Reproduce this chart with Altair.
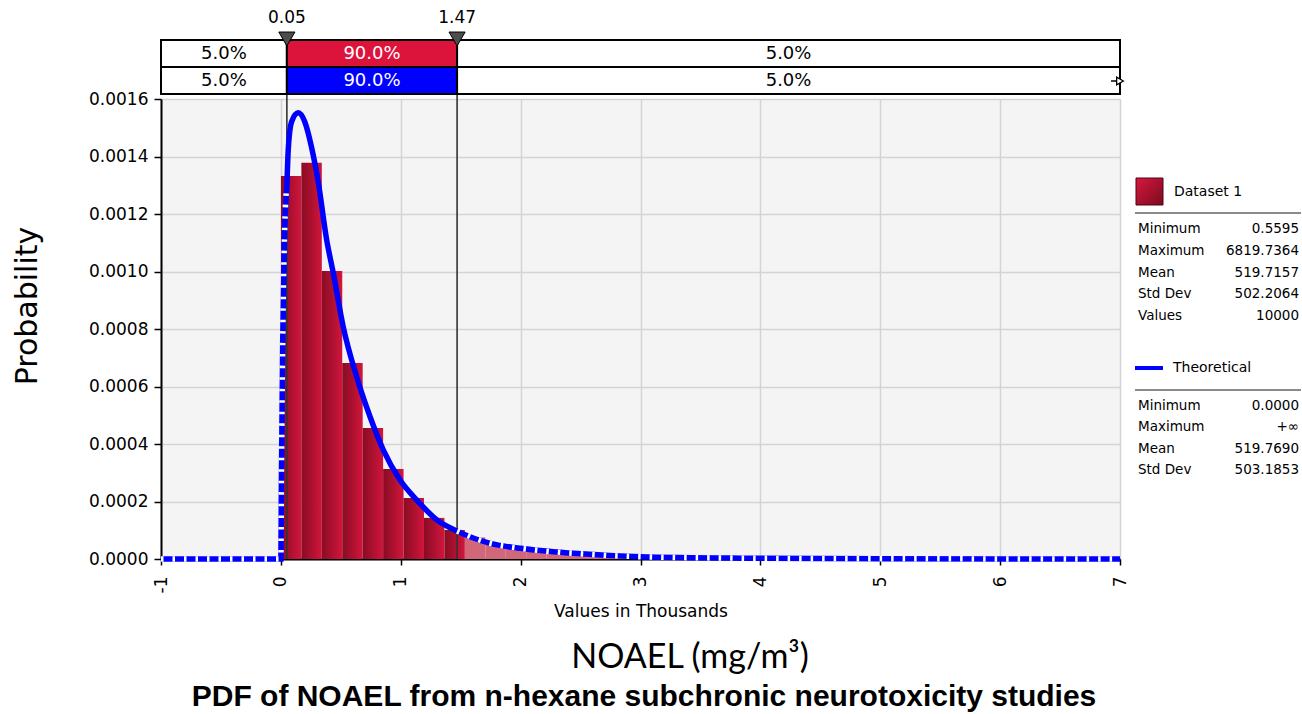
import altair as alt
import pandas as pd

# ---------------- data ----------------
# Histogram of Dataset 1 (x in thousands of mg/m3, y = probability density)
BIN_START = 0.0005595          # thousands
BIN_WIDTH = 0.1704794          # thousands
BAR_DENSITY = [0.001332, 0.001378, 0.001002, 0.000682, 0.000456, 0.000313,
               0.000212, 0.000143, 0.000101, 0.000075, 0.000054, 0.000040,
               0.000030, 0.000023, 0.000017, 0.000013, 0.000010, 0.0000075,
               0.0000055, 0.0000042, 0.0000032, 0.0000024, 0.0000018,
               0.0000014, 0.0000011, 0.0000008, 0.0000006, 0.0000005,
               0.0000004, 0.0000003, 0.0000002, 0.0000002, 0.0000001,
               0.0000001, 0.0000001, 0.0000001, 0.0, 0.0, 0.0, 0.0000006]

# Theoretical curve
CURVE_X = [-1.0, 0.0, 0.004, 0.015, 0.03, 0.05, 0.061, 0.089, 0.145, 0.20,
           0.257, 0.312, 0.382, 0.437, 0.52, 0.632, 0.744, 0.855, 0.994,
           1.134, 1.301, 1.47, 1.746, 1.997, 2.442, 2.999, 3.835, 5.0, 7.0]
CURVE_Y = [0.0, 0.0, 0.00025, 0.00075, 0.00112, 0.00130, 0.00142, 0.00152,
           0.001552, 0.00152, 0.00143, 0.00131, 0.00111, 0.000995, 0.000808,
           0.000634, 0.000495, 0.000379, 0.000275, 0.000205, 0.000136,
           0.000097, 0.0000546, 0.0000372, 0.0000198, 0.000008, 0.000003,
           0.000001, 0.0]

DELIMS = [0.05, 1.47]
DELIM_LABELS = ["0.05", "1.47"]
BAND_EDGES = [-1, 0.05, 1.47, 7]
BAND_PCTS = ["5.0%", "90.0%", "5.0%"]

DS_LABELS = ["Minimum", "Maximum", "Mean", "Std Dev", "Values"]
DS_VALUES = ["0.5595", "6819.7364", "519.7157", "502.2064", "10000"]
TH_LABELS = ["Minimum", "Maximum", "Mean", "Std Dev"]
TH_VALUES = ["0.0000", "+\u221e", "519.7690", "503.1853"]

X_TICKS = [-1, 0, 1, 2, 3, 4, 5, 6, 7]
Y_TICKS = [0.0, 0.0002, 0.0004, 0.0006, 0.0008, 0.0010, 0.0012, 0.0014, 0.0016]

Y_TITLE = "Probability"
X_TITLE = "Values in Thousands"
UNIT_TITLE = "NOAEL (mg/m\u00b3)"
MAIN_TITLE = "PDF of NOAEL from n-hexane subchronic neurotoxicity studies"

# ---------------- layout ----------------
W, H = 959, 460
FONT = "DejaVu Sans"
xs = alt.Scale(domain=[-1, 7], nice=False, zero=False)
ys = alt.Scale(domain=[0, 0.0016], nice=False, zero=False)

bars = pd.DataFrame({"d": BAR_DENSITY})
bars["i"] = range(len(bars))
bars["lo"] = BIN_START + bars["i"] * BIN_WIDTH
bars["hi"] = bars["lo"] + BIN_WIDTH

curve = pd.DataFrame({"x": CURVE_X, "y": CURVE_Y})

bar_grad = alt.Gradient(
    gradient="linear",
    stops=[alt.GradientStop(color="#880c23", offset=0),
           alt.GradientStop(color="#d2153c", offset=1)],
    x1=0, x2=1, y1=0, y2=0)

main_bars = alt.Chart(bars).transform_filter("datum.lo < 1.47").mark_rect(
    color=bar_grad).encode(
    x=alt.X("lo:Q", scale=xs,
            axis=alt.Axis(values=X_TICKS, labelAngle=270,
                          labelExpr="'' + datum.value",
                          tickSize=6, labelPadding=11, title=X_TITLE,
                          titleY=52, titleBaseline="middle",
                          titleFont=FONT, titleFontSize=17,
                          titleFontWeight="normal", titleColor="black")),
    x2="hi:Q",
    y=alt.Y("d:Q", scale=ys,
            axis=alt.Axis(values=Y_TICKS, format=".4f", tickSize=7,
                          labelPadding=6, title=None)),
    y2=alt.datum(0),
)

tail_bars = alt.Chart(bars).transform_filter("datum.lo >= 1.47").mark_rect(
    color="#d2677a").encode(
    x=alt.X("lo:Q", scale=xs), x2="hi:Q",
    y=alt.Y("d:Q", scale=ys), y2=alt.datum(0))

delims = pd.DataFrame({"d": DELIMS, "lab": DELIM_LABELS})
delim_rules = alt.Chart(delims).mark_rule(color="#333333", strokeWidth=1.6).encode(
    x=alt.X("d:Q", scale=xs), y=alt.value(-59), y2=alt.value(H))

curve_full = alt.Chart(curve).mark_line(color="#0000ff", strokeWidth=5.5,
                                         interpolate="monotone").encode(
    x=alt.X("x:Q", scale=xs), y=alt.Y("y:Q", scale=ys), order="x:Q")

curve_hatch = alt.Chart(curve).transform_calculate(
    seg="datum.x <= 0.05 ? 'a' : (datum.x >= 1.47 ? 'c' : 'b')"
).transform_filter("datum.seg != 'b'").mark_line(
    color="white", strokeWidth=5.5, strokeDash=[2.5, 9],
    interpolate="monotone").encode(
    x=alt.X("x:Q", scale=xs), y=alt.Y("y:Q", scale=ys),
    detail="seg:N", order="x:Q")

# ---------------- percentage band on top ----------------
band_rows = []
for r in range(2):
    for j in range(3):
        band_rows.append({"row": r, "seg": j, "x0": BAND_EDGES[j],
                          "x1": BAND_EDGES[j + 1], "pct": BAND_PCTS[j],
                          "xm": (BAND_EDGES[j] + BAND_EDGES[j + 1]) / 2})
band = pd.DataFrame(band_rows)

band_layers = []
for r, (top, mid_col) in enumerate([(-59, "#dc143c"), (-32, "#0000ff")]):
    src = alt.Chart(band).transform_filter(f"datum.row == {r}")
    band_layers.append(src.mark_rect(stroke="black", strokeWidth=2).encode(
        x=alt.X("x0:Q", scale=xs), x2="x1:Q",
        y=alt.value(top), y2=alt.value(top + 27),
        color=alt.condition("datum.seg == 1", alt.value(mid_col), alt.value("white"))))
    band_layers.append(src.mark_text(font=FONT, fontSize=18, baseline="middle").encode(
        x=alt.X("xm:Q", scale=xs), y=alt.value(top + 13.5), text="pct:N",
        color=alt.condition("datum.seg == 1", alt.value("white"), alt.value("black"))))

tri = alt.Chart(delims).mark_point(shape="triangle-down", filled=True, size=260,
                                   color="#4d4d4d", stroke="black",
                                   strokeWidth=1, opacity=1).encode(
    x=alt.X("d:Q", scale=xs), y=alt.value(-60))
tri_lab = alt.Chart(delims).mark_text(font=FONT, fontSize=17, baseline="middle",
                                      color="black").encode(
    x=alt.X("d:Q", scale=xs), y=alt.value(-81), text="lab:N")

arrow_df = pd.DataFrame({"x": [7]})
arrow_stem = alt.Chart(arrow_df).mark_rule(color="black", strokeWidth=1.5).encode(
    x=alt.value(W - 9), x2=alt.value(W - 2), y=alt.value(-18))
arrow = alt.Chart(arrow_df).mark_point(
    shape="triangle-right", filled=True, size=60, fill="white", stroke="black",
    strokeWidth=1.3, opacity=1).encode(x=alt.X("x:Q", scale=xs), y=alt.value(-18))


# ---------------- helpers for free text ----------------
def txt(s, px, py, **kw):
    return alt.Chart(pd.DataFrame({"t": [s]})).mark_text(**kw).encode(
        x=alt.value(px), y=alt.value(py), text="t:N")


def hline(x0, x1, py, color, width):
    return alt.Chart(pd.DataFrame({"k": [0]})).mark_rule(
        color=color, strokeWidth=width).encode(
        x=alt.value(x0), x2=alt.value(x1), y=alt.value(py))


legend_layers = []
swatch_grad = alt.Gradient(
    gradient="linear",
    stops=[alt.GradientStop(color="#d8183f", offset=0),
           alt.GradientStop(color="#7a0a1e", offset=1)],
    x1=0, x2=1, y1=0, y2=1)
legend_layers.append(alt.Chart(pd.DataFrame({"k": [0]})).mark_rect(
    color=swatch_grad, stroke="#4a0612", strokeWidth=1).encode(
    x=alt.value(975), x2=alt.value(1002), y=alt.value(79), y2=alt.value(106)))
legend_layers.append(txt("Dataset 1", 1013, 93, font=FONT, fontSize=14,
                         align="left", baseline="middle"))
legend_layers.append(hline(974, 1140, 114, "#8a8a8a", 2))
for k, (lab, val) in enumerate(zip(DS_LABELS, DS_VALUES)):
    py = 130 + k * 21.75
    legend_layers.append(txt(lab, 977, py, font=FONT, fontSize=13.5,
                             align="left", baseline="middle"))
    legend_layers.append(txt(val, 1138, py, font=FONT, fontSize=13.5,
                             align="right", baseline="middle"))
legend_layers.append(hline(974, 1002, 269, "#0000ff", 4))
legend_layers.append(txt("Theoretical", 1012, 269, font=FONT, fontSize=14,
                         align="left", baseline="middle"))
legend_layers.append(hline(974, 1140, 291, "#8a8a8a", 2))
for k, (lab, val) in enumerate(zip(TH_LABELS, TH_VALUES)):
    py = 307 + k * 21.3
    legend_layers.append(txt(lab, 977, py, font=FONT, fontSize=13.5,
                             align="left", baseline="middle"))
    legend_layers.append(txt(val, 1138, py, font=FONT, fontSize=13.5,
                             align="right", baseline="middle"))

titles = [
    txt(Y_TITLE, -133, 207, font=FONT, fontSize=30, angle=270,
        align="center", baseline="middle"),
    txt(UNIT_TITLE, 529, 559, font="Lato", fontSize=34, align="center",
        baseline="middle"),
    txt(MAIN_TITLE, 483, 598, font="Liberation Sans", fontSize=30,
        fontWeight="bold", align="center", baseline="middle"),
]

chart = alt.layer(
    main_bars, tail_bars, delim_rules, curve_full, curve_hatch,
    *band_layers, tri, tri_lab, arrow_stem, arrow, *legend_layers, *titles
).properties(
    width=W, height=H,
    autosize=alt.AutoSizeParams(type="none"),
    padding={"left": 161, "top": 99, "right": 182, "bottom": 155},
    background="white",
).configure_view(
    fill="#f4f4f4", stroke="transparent"
).configure_axis(
    domainColor="black", domainWidth=2, tickColor="black", tickWidth=1.5,
    gridColor="#d4d4d4", gridWidth=1.5,
    labelFont=FONT, labelFontSize=17, labelColor="black",
)

chart.save("out.html", embed_options={"renderer": "svg", "actions": False})
